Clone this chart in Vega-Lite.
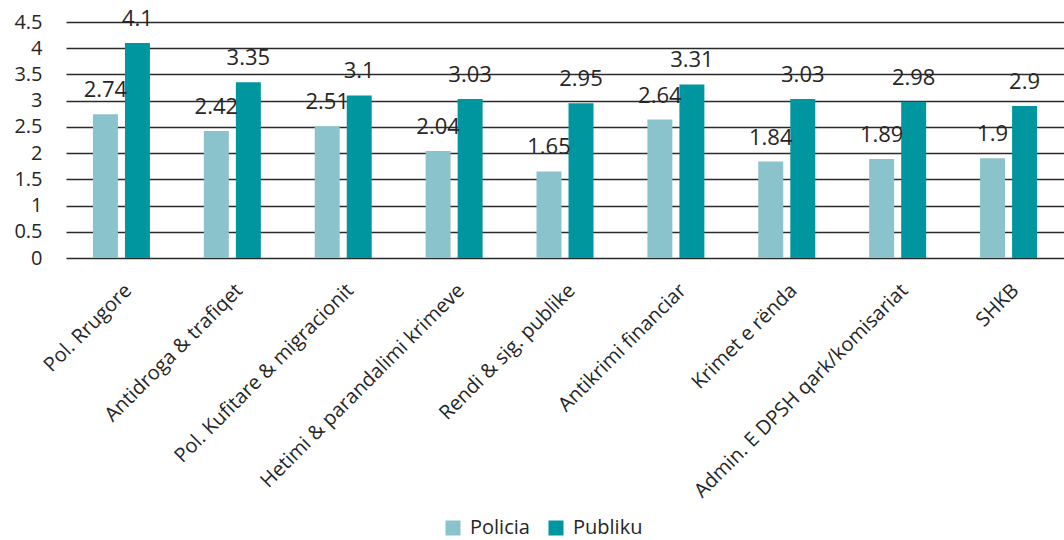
{
  "$schema": "https://vega.github.io/schema/vega-lite/v6.json",
  "autosize": {"type": "none"},
  "width": 998,
  "height": 236,
  "padding": {"left": 66, "top": 22, "right": 0, "bottom": 282},
  "background": "white",
  "config": {
    "font": "Open Sans",
    "view": {"stroke": null}
  },
  "data": {
    "values": [
      {"category": "Pol. Rrugore", "series": "Policia", "value": 2.74},
      {"category": "Pol. Rrugore", "series": "Publiku", "value": 4.1},
      {"category": "Antidroga & trafiqet", "series": "Policia", "value": 2.42},
      {"category": "Antidroga & trafiqet", "series": "Publiku", "value": 3.35},
      {"category": "Pol. Kufitare & migracionit", "series": "Policia", "value": 2.51},
      {"category": "Pol. Kufitare & migracionit", "series": "Publiku", "value": 3.1},
      {"category": "Hetimi & parandalimi krimeve", "series": "Policia", "value": 2.04},
      {"category": "Hetimi & parandalimi krimeve", "series": "Publiku", "value": 3.03},
      {"category": "Rendi & sig. publike", "series": "Policia", "value": 1.65},
      {"category": "Rendi & sig. publike", "series": "Publiku", "value": 2.95},
      {"category": "Antikrimi financiar", "series": "Policia", "value": 2.64},
      {"category": "Antikrimi financiar", "series": "Publiku", "value": 3.31},
      {"category": "Krimet e rënda", "series": "Policia", "value": 1.84},
      {"category": "Krimet e rënda", "series": "Publiku", "value": 3.03},
      {"category": "Admin. E DPSH qark/komisariat", "series": "Policia", "value": 1.89},
      {"category": "Admin. E DPSH qark/komisariat", "series": "Publiku", "value": 2.98},
      {"category": "SHKB", "series": "Policia", "value": 1.9},
      {"category": "SHKB", "series": "Publiku", "value": 2.9}
    ]
  },
  "encoding": {
    "x": {
      "field": "category",
      "type": "nominal",
      "sort": null,
      "scale": {"paddingInner": 0.486, "paddingOuter": 0.243},
      "axis": {
        "title": null,
        "domain": false,
        "ticks": false,
        "labelAngle": -45,
        "labelAlign": "right",
        "labelBaseline": "top",
        "labelPadding": 22,
        "labelFontSize": 20,
        "labelColor": "#262626",
        "labelLimit": 400
      }
    },
    "xOffset": {
      "field": "series",
      "type": "nominal",
      "scale": {"paddingInner": 0.22, "paddingOuter": 0}
    },
    "y": {
      "field": "value",
      "type": "quantitative",
      "scale": {"domain": [0, 4.5], "nice": false},
      "axis": {
        "title": null,
        "values": [0, 0.5, 1, 1.5, 2, 2.5, 3, 3.5, 4, 4.5],
        "format": "~g",
        "domain": false,
        "ticks": false,
        "labelPadding": 24,
        "labelFontSize": 20,
        "labelColor": "#262626",
        "gridColor": "#2b2b2b",
        "gridWidth": 1.5,
        "gridOpacity": 1
      }
    }
  },
  "layer": [
    {
      "mark": {"type": "bar"},
      "encoding": {
        "color": {
          "field": "series",
          "type": "nominal",
          "scale": {"domain": ["Policia", "Publiku"], "range": ["#8AC3CB", "#0096A0"]},
          "legend": {
            "title": null,
            "orient": "none",
            "direction": "horizontal",
            "legendX": 377,
            "legendY": 496,
            "symbolType": "square",
            "symbolSize": 225,
            "symbolStrokeWidth": 0,
            "labelFontSize": 20,
            "labelColor": "#262626",
            "columnPadding": 16,
            "labelOffset": 7
          }
        }
      }
    },
    {
      "mark": {"type": "text", "dy": -17, "baseline": "alphabetic", "fontSize": 22, "color": "#262626"},
      "encoding": {
        "text": {"field": "value", "type": "quantitative"}
      }
    }
  ]
}
